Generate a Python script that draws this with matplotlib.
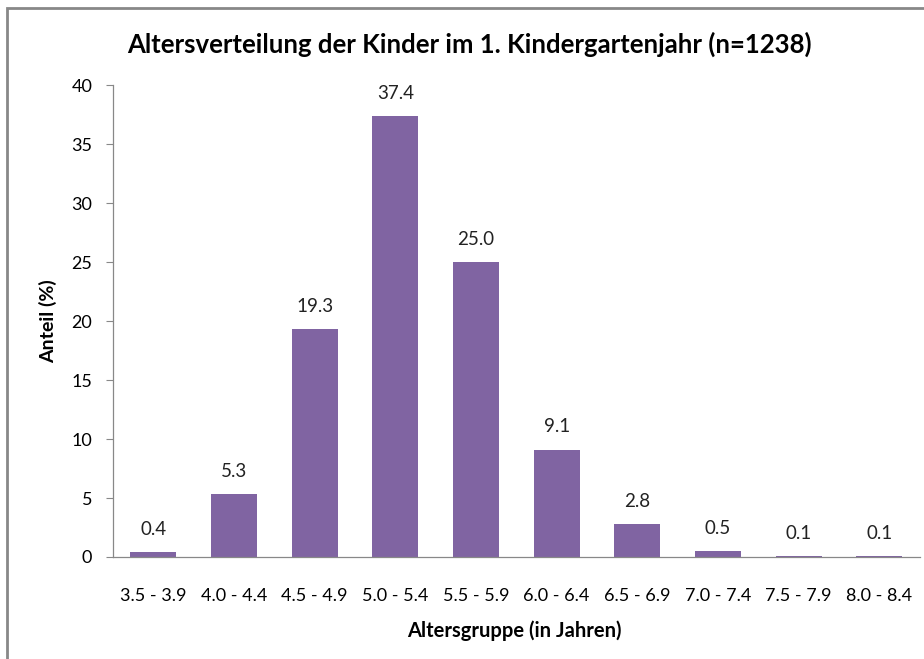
import matplotlib.pyplot as plt
from matplotlib.patches import Rectangle

plt.rcParams["font.family"] = ["Lato", "DejaVu Sans"]

groups = ["3.5 - 3.9", "4.0 - 4.4", "4.5 - 4.9", "5.0 - 5.4", "5.5 - 5.9",
          "6.0 - 6.4", "6.5 - 6.9", "7.0 - 7.4", "7.5 - 7.9", "8.0 - 8.4"]
share = [0.4, 5.3, 19.3, 37.4, 25.0, 9.1, 2.8, 0.5, 0.1, 0.1]

fig = plt.figure(figsize=(9.24, 6.59), dpi=100)
ax = fig.add_axes([0.1223, 0.1548, 0.873, 0.716])

x = list(range(len(groups)))
ax.bar(x, share, width=0.57, color="#8064A2")
for xi, v in zip(x, share):
    ax.text(xi, v + 1.2, f"{v:.1f}", ha="center", va="bottom", fontsize=13.5, color="#222222")

ax.set_xlim(-0.5, len(groups) - 0.5)
ax.set_ylim(0, 40)
ax.set_yticks(range(0, 41, 5))
ax.set_xticks(x)
ax.set_xticklabels(groups)
ax.tick_params(axis="x", length=0, pad=22, labelsize=13)
ax.tick_params(axis="y", length=5, width=0.8, color="#888888", pad=10, labelsize=13)
for s in ["top", "right"]:
    ax.spines[s].set_visible(False)
for s in ["left", "bottom"]:
    ax.spines[s].set_color("#888888")
    ax.spines[s].set_linewidth(0.9)

ax.set_xlabel("Altersgruppe (in Jahren)", fontsize=14.5, fontweight="bold", va="center")
ax.xaxis.set_label_coords(0.498, -0.157)
ax.set_ylabel("Anteil (%)", fontsize=14, fontweight="bold", va="center")
ax.yaxis.set_label_coords(-0.08, 0.5)
fig.text(0.508, 0.932, "Altersverteilung der Kinder im 1. Kindergartenjahr (n=1238)",
         ha="center", va="center", fontsize=18.5, fontweight="bold")

# outer chart frame (runs off the right and bottom edge)
fig.patches.append(Rectangle((7 / 924, -0.05), 1.0, 1.05 - 8 / 659, transform=fig.transFigure,
                             fill=False, edgecolor="#888888", linewidth=2))

fig.savefig("out.png", dpi=100)
